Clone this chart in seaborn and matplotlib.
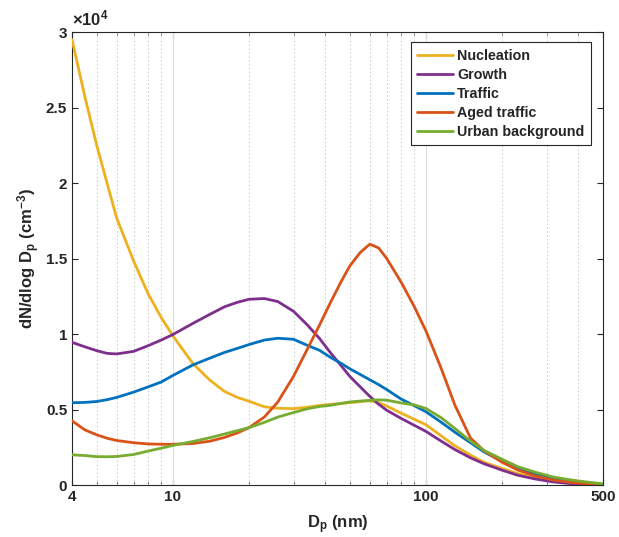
import numpy as np
import pandas as pd
import seaborn as sns
import matplotlib
matplotlib.use('Agg')
import matplotlib.pyplot as plt
from matplotlib.ticker import FixedLocator, NullFormatter

# particle diameter grid (nm)
dp = [4, 4.5, 5, 5.5, 6, 7, 8, 9, 10, 12, 14, 16, 18, 20, 23, 26, 30, 34, 38, 42,
      46, 50, 55, 60, 65, 70, 80, 90, 100, 115, 130, 150, 170, 200, 230, 270, 320,
      380, 440, 500]

nucleation = [29500, 25700, 22550, 20000, 17700, 14850, 12650, 11100, 9890, 8050,
              6950, 6200, 5800, 5550, 5180, 5080, 5060, 5150, 5270, 5340, 5400, 5450,
              5520, 5580, 5450, 5230, 4750, 4350, 3990, 3250, 2600, 1980, 1500, 1100,
              760, 500, 300, 150, 60, 20]
growth = [9450, 9150, 8900, 8720, 8680, 8850, 9230, 9600, 9960, 10700, 11300, 11800,
          12100, 12300, 12350, 12150, 11500, 10600, 9700, 8750, 7950, 7200, 6500,
          5870, 5350, 4950, 4400, 3950, 3550, 2900, 2350, 1800, 1400, 980, 650, 400,
          200, 80, 20, 0]
traffic = [5450, 5470, 5530, 5650, 5800, 6150, 6500, 6820, 7250, 7950, 8400, 8780,
           9050, 9300, 9600, 9720, 9650, 9250, 8920, 8450, 8080, 7700, 7320, 6970,
           6650, 6320, 5680, 5250, 4850, 4150, 3500, 2800, 2180, 1580, 1100, 720, 420,
           250, 140, 50]
aged_traffic = [4250, 3650, 3330, 3100, 2950, 2800, 2720, 2700, 2700, 2750, 2900,
                3150, 3450, 3800, 4500, 5500, 7200, 9000, 10600, 12100, 13400, 14500,
                15400, 15950, 15700, 15000, 13400, 11800, 10200, 7700, 5300, 3100,
                2250, 1500, 1000, 600, 320, 160, 70, 20]
urban_bg = [2000, 1950, 1880, 1870, 1890, 2020, 2250, 2440, 2620, 2880, 3130, 3380,
            3600, 3800, 4150, 4500, 4800, 5050, 5200, 5280, 5400, 5500, 5560, 5610,
            5640, 5620, 5430, 5300, 5070, 4450, 3750, 2900, 2280, 1700, 1220, 850, 520,
            320, 180, 80]

modes = ['Nucleation', 'Growth', 'Traffic', 'Aged traffic', 'Urban background']
colors = ['#EDB120', '#7E2F8E', '#0072BD', '#D95319', '#77AC30']

df = pd.DataFrame({
    'Dp': np.tile(dp, len(modes)),
    'dN': np.concatenate([nucleation, growth, traffic, aged_traffic, urban_bg]),
    'mode': np.repeat(modes, len(dp)),
})

sns.set_style('ticks')
plt.rcParams['font.family'] = ['Liberation Sans', 'DejaVu Sans']
plt.rcParams['font.weight'] = 'bold'
plt.rcParams['mathtext.fontset'] = 'custom'
plt.rcParams['mathtext.rm'] = 'Liberation Sans'
plt.rcParams['mathtext.bf'] = 'Liberation Sans:bold'
plt.rcParams['mathtext.default'] = 'bf'

fig = plt.figure(figsize=(6.19, 5.37), dpi=100)
ax = fig.add_axes([0.1163, 0.0968, 0.8578, 0.8436])

sns.lineplot(data=df, x='Dp', y='dN', hue='mode', hue_order=modes,
             palette=colors, linewidth=2, ax=ax, zorder=3)

ax.set_xscale('log')
ax.set_xlim(4, 500)
ax.set_ylim(0, 30000)

major = [4, 10, 100, 500]
minor = [5, 6, 7, 8, 9, 20, 30, 40, 50, 60, 70, 80, 90, 200, 300, 400]
ax.xaxis.set_major_locator(FixedLocator(major))
ax.xaxis.set_minor_locator(FixedLocator(minor))
ax.xaxis.set_minor_formatter(NullFormatter())
ax.set_xticklabels(['4', '10', '100', '500'], fontweight='bold', fontsize=11)

yt = [0, 5000, 10000, 15000, 20000, 25000, 30000]
ax.set_yticks(yt)
ax.set_yticklabels(['0', '0.5', '1', '1.5', '2', '2.5', '3'], fontweight='bold', fontsize=11)

for v in [10, 100]:
    ax.axvline(v, color='#dddddd', linewidth=0.8, zorder=1)
for v in minor:
    ax.axvline(v, color='#c8c8c8', linewidth=0.7, linestyle=(0, (1.5, 2.5)), zorder=1)

ax.tick_params(which='both', direction='in', top=True, right=True, color='#262626')
ax.tick_params(which='major', length=4)
ax.tick_params(which='minor', length=2.5)
for s in ax.spines.values():
    s.set_color('#262626')
    s.set_linewidth(0.8)

ax.set_xlabel(r'D$_\mathbf{p}$ (nm)', fontsize=12, fontweight='bold', labelpad=7)
ax.set_ylabel(r'dN/dlog D$_\mathbf{p}$ (cm$^{\mathbf{-3}}$)', fontsize=12,
              fontweight='bold', labelpad=3)
ax.text(0.0, 1.008, r'$\mathrm{\times10^{4}}$', transform=ax.transAxes,
        fontsize=12, fontweight='normal', ha='left', va='bottom')

leg = ax.legend(loc='upper right', bbox_to_anchor=(0.977, 0.977), borderaxespad=0,
                frameon=True, fancybox=False, framealpha=1, edgecolor='#262626',
                handlelength=2.5, handletextpad=0.3, labelspacing=0.35,
                borderpad=0.45, prop={'weight': 'bold', 'size': 10.3}, title=None)
leg.get_frame().set_linewidth(0.8)
for line in leg.get_lines():
    line.set_linewidth(2)

plt.savefig('out.png', dpi=100)
